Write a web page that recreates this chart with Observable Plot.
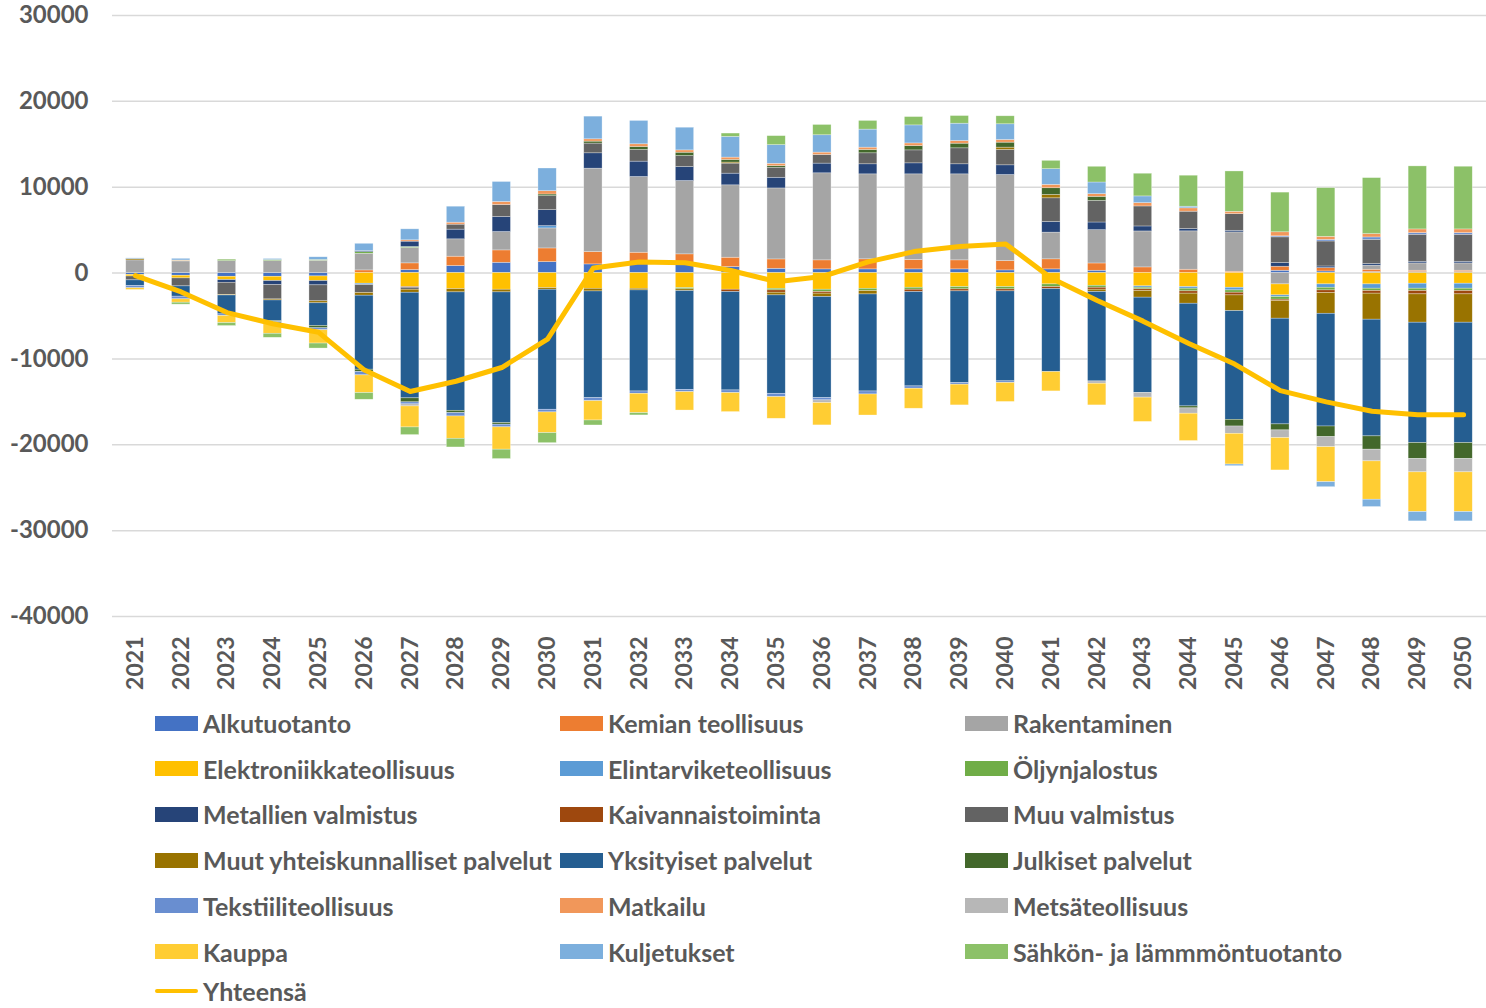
<!DOCTYPE html>
<html><head><meta charset="utf-8">
<script src="https://cdn.jsdelivr.net/npm/d3@7"></script>
<script src="https://cdn.jsdelivr.net/npm/@observablehq/plot@0.6"></script>
<style>
body{margin:0;background:#fff;font-family:Lato,"Open Sans",sans-serif;}
#wrap{position:relative;width:1486px;height:1008px;overflow:hidden;}
.item{position:absolute;display:flex;align-items:center;font-weight:700;font-size:25px;line-height:22px;color:#595959;white-space:nowrap;height:22px;}
.sw{width:43px;height:15px;margin-right:5px;flex:none;}
.ln{width:43px;height:4px;margin-right:5px;flex:none;border-radius:2px;}
</style></head><body><div id="wrap"><div id="chart"></div></div>
<script>
const years = ["2021","2022","2023","2024","2025","2026","2027","2028","2029","2030","2031","2032","2033","2034","2035","2036","2037","2038","2039","2040","2041","2042","2043","2044","2045","2046","2047","2048","2049","2050"];
const yTicks = [-40000,-30000,-20000,-10000,0,10000,20000,30000];

const seriesNames = ["Alkutuotanto","Kemian teollisuus","Rakentaminen","Elektroniikkateollisuus","Elintarviketeollisuus","Öljynjalostus","Metallien valmistus","Kaivannaistoiminta","Muu valmistus","Muut yhteiskunnalliset palvelut","Yksityiset palvelut","Julkiset palvelut","Tekstiiliteollisuus","Matkailu","Metsäteollisuus","Kauppa","Kuljetukset","Sähkön- ja lämmmöntuotanto"];
const seriesColors = ["#4472C4","#ED7D31","#A5A5A5","#FFC000","#5B9BD5","#70AD47","#264478","#9E480E","#636363","#997300","#255E91","#43682B","#698ED0","#F1975A","#B7B7B7","#FFCD33","#7CAFDD","#8CC168"];

const alkutuotanto = [-200,-310,-430,-430,-390,0,350,820,1200,1280,1010,1280,1090,700,500,430,430,430,430,310,430,270,0,0,0,270,190,120,120,120];
const kemian = [0,0,0,0,0,310,780,1090,1440,1590,1440,1090,1090,1090,1090,1050,1170,1090,1050,1090,1170,850,660,390,155,470,390,270,155,155];
const rakentaminen = [1480,1360,1400,1400,1430,1940,1790,2020,2140,2330,9710,8820,8540,8430,8270,10140,9900,9980,10020,10020,3110,3880,4190,4470,4580,-1320,0,470,850,850];
const elektroniikka = [-200,-310,-390,-500,-540,-1240,-1630,-1860,-1940,-1750,-1830,-1830,-1750,-1940,-1830,-1940,-1830,-1710,-1630,-1630,-1320,-1480,-1550,-1630,-1710,-1280,-1320,-1320,-1240,-1240];
const elintarvike = [0,0,0,0,0,-155,0,0,0,270,0,0,0,0,0,0,0,0,0,0,0,0,-155,-190,-310,-190,-390,-500,-580,-580];
const oljy = [0,60,150,120,100,190,120,0,0,0,0,0,-150,0,-190,-270,-270,-230,-270,-270,-310,-230,-190,-310,-270,-310,-310,-270,-270,-270];
const metallien = [0,0,-310,-470,-500,120,620,1130,1750,1860,1790,1790,1630,1360,1240,1130,1170,1280,1170,1130,1240,890,580,270,190,430,190,190,190,190];
const kaivannais = [0,0,0,0,0,0,-80,0,0,0,0,0,0,-270,-270,-190,0,-270,-230,-230,-230,-230,-190,-270,-310,-155,-310,-310,-390,-390];
const muuValmistus = [-450,-930,-1400,-1670,-1860,-930,-230,580,1400,1630,1130,1360,1280,1170,1170,1010,1280,1510,1860,1790,2760,2520,2330,2020,1940,2990,2910,2830,3150,3150];
const muutYhteisk = [150,0,-80,-120,-230,-310,-350,-390,-310,-190,-310,-190,-200,120,-310,-390,-390,0,0,270,390,-270,-780,-1170,-1830,-2060,-2410,-3030,-3300,-3300];
const yksityiset = [-650,-1200,-2200,-2400,-2640,-8620,-12300,-13790,-15220,-13980,-12430,-11770,-11500,-11460,-11460,-11770,-11300,-10990,-10680,-10480,-9670,-10410,-11100,-11960,-12660,-12310,-13130,-13590,-14020,-14020];
const julkiset = [0,0,0,-120,-270,-270,-470,-270,-190,190,230,350,390,310,190,0,390,500,540,580,780,470,0,-230,-780,-700,-1240,-1550,-1860,-1860];
const tekstiili = [-270,-310,-190,-270,-230,-390,-235,-390,-310,-310,-350,-270,-270,-310,-390,-270,-350,-270,-190,-190,0,0,0,0,0,120,190,270,190,190];
const matkailu = [0,50,0,0,0,0,155,230,350,390,270,310,270,270,270,270,270,310,310,310,390,310,390,390,270,470,350,390,430,430];
const metsa = [0,0,0,0,0,0,-235,0,0,0,0,0,0,0,0,-310,0,0,0,0,0,-270,-540,-620,-850,-890,-1170,-1360,-1550,-1550];
const kauppa = [-200,-390,-820,-1090,-1550,-2060,-2450,-2600,-2600,-2410,-2250,-2250,-2140,-2210,-2520,-2600,-2450,-2330,-2410,-2210,-2250,-2520,-2830,-3180,-3580,-3770,-4080,-4470,-4620,-4620];
const kuljetukset = [80,190,0,120,310,850,1280,1860,2330,2640,2640,2720,2640,2410,2170,2020,2100,2100,2020,1830,1830,1360,780,190,-190,0,-580,-850,-1090,-1090];
const sahko = [0,-230,-350,-470,-580,-780,-890,-1010,-1090,-1170,-580,-270,0,390,1050,1200,1010,970,890,930,970,1830,2640,3610,4700,4620,5670,6520,7340,7300];

const yhteensa = [-300,-2200,-4600,-5900,-6900,-11300,-13800,-12600,-11000,-7700,600,1300,1200,300,-1000,-400,1300,2500,3100,3400,-600,-3200,-5600,-8200,-10600,-13700,-15000,-16100,-16500,-16500];

const seriesValues = [alkutuotanto,kemian,rakentaminen,elektroniikka,elintarvike,oljy,metallien,kaivannais,muuValmistus,muutYhteisk,yksityiset,julkiset,tekstiili,matkailu,metsa,kauppa,kuljetukset,sahko];

const table = [];
seriesNames.forEach((name, k) => {
  seriesValues[k].forEach((v, i) => table.push({year: years[i], series: name, value: v}));
});
const totalData = years.map((y, i) => ({year: y, value: yhteensa[i]}));

const chart = Plot.plot({
  width: 1486, height: 696,
  marginLeft: 112, marginRight: 0, marginTop: 15, marginBottom: 80,
  style: {fontFamily: "Lato, 'Open Sans', sans-serif", fontWeight: 700, fontSize: "23px", color: "#595959", background: "white"},
  x: {type: "band", domain: years, paddingInner: 0.6, paddingOuter: 0.3, round: false, axis: null, label: null},
  y: {domain: [-40000, 30000], axis: null, label: null},
  color: {domain: seriesNames, range: seriesColors},
  marks: [
    Plot.ruleY(yTicks, {stroke: "#d9d9d9", strokeWidth: 1.5}),
    Plot.barY(table, {x: "year", y: "value", fill: "series", stroke: "white", strokeWidth: 0.6, strokeOpacity: 0.5}),
    Plot.line(totalData, {x: "year", y: "value", stroke: "#FFC000", strokeWidth: 5, strokeLinejoin: "round", strokeLinecap: "round"}),
    Plot.axisY({ticks: yTicks, label: null, tickSize: 0, tickPadding: 24, tickFormat: d => String(d), fill: "#595959", fontWeight: 700, fontSize: 24}),
    Plot.axisX({label: null, tickSize: 0, tickPadding: 20, tickRotate: -90, fill: "#595959", fontWeight: 700, fontSize: 23})
  ]
});
const wrap = document.getElementById("wrap");
document.getElementById("chart").appendChild(chart);

// legend
const legendItems = seriesNames.map((n, k) => ({name: n, color: seriesColors[k], line: false}));
legendItems.push({name: "Yhteensä", color: "#FFC000", line: true});
legendItems.forEach((it, k) => {
  const row = Math.floor(k / 3), col = k % 3;
  const div = document.createElement("div");
  div.className = "item";
  div.style.left = (155 + col * 405) + "px";
  div.style.top = Math.min(723 + row * 45.7 - 11, 980) + "px";
  const sw = document.createElement("span");
  sw.className = it.line ? "ln" : "sw";
  sw.style.background = it.color;
  const tx = document.createElement("span");
  tx.textContent = it.name;
  div.appendChild(sw); div.appendChild(tx);
  wrap.appendChild(div);
});
</script></body></html>
